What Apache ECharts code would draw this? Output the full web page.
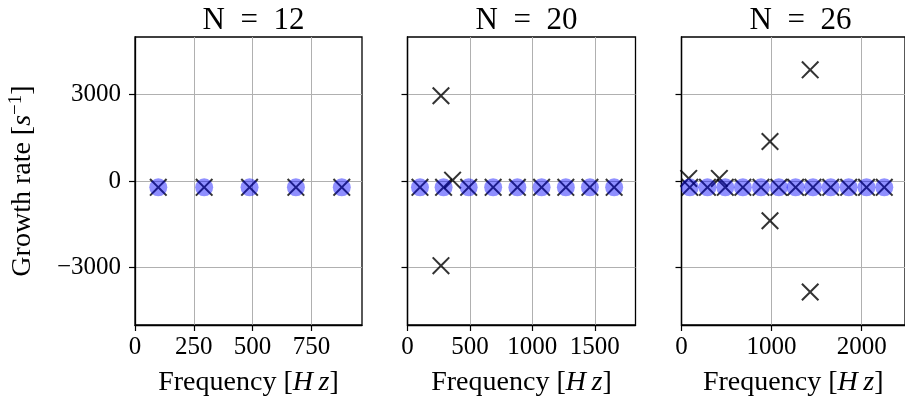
<!DOCTYPE html>
<html>
<head>
<meta charset="utf-8">
<script src="https://cdn.jsdelivr.net/npm/echarts@6/dist/echarts.min.js"></script>
<style>html,body{margin:0;padding:0;background:#fff}#c{width:905px;height:409px}</style>
</head>
<body>
<div id="c"></div>
<script>
// ---- data ----
const titles = ['N = 12', 'N = 20', 'N = 26'];
// N = 12
const modeFreq12 = [99, 294, 487, 684, 879];
const modeRate12 = [-220, -220, -220, -220, -220];
const allFreq12 = [99, 294, 487, 684, 879];
const allRate12 = [-220, -220, -220, -220, -220];
// N = 20
const modeFreq20 = [100, 289, 490, 686, 880, 1074, 1268, 1461, 1655];
const modeRate20 = [-220, -220, -220, -220, -220, -220, -220, -220, -220];
const allFreq20 = [100, 289, 490, 686, 880, 1074, 1268, 1461, 1655, 268, 268, 361];
const allRate20 = [-220, -220, -220, -220, -220, -220, -220, -220, -220, 2960, -2940, 30];
// N = 26
const modeFreq26 = [92, 288, 486, 681, 882, 1080, 1266, 1459, 1656, 1855, 2053, 2250];
const modeRate26 = [-220, -220, -220, -220, -220, -220, -220, -220, -220, -220, -220, -220];
const allFreq26 = [92, 288, 486, 681, 882, 1080, 1266, 1459, 1656, 1855, 2053, 2250, 80, 420, 982, 982, 1428, 1428];
const allRate26 = [-220, -220, -220, -220, -220, -220, -220, -220, -220, -220, -220, -220, 90, 90, 1370, -1380, 3860, -3855];
// axes
const xMax = [965, 1826, 2480];
const xTicks = [[0, 250, 500, 750], [0, 500, 1000, 1500], [0, 1000, 2000]];
const yMin = -5000, yMax = 5000;
const yTicks = [-3000, 0, 3000];

const modeF = [modeFreq12, modeFreq20, modeFreq26];
const modeR = [modeRate12, modeRate20, modeRate26];
const allF = [allFreq12, allFreq20, allFreq26];
const allR = [allRate12, allRate20, allRate26];

const FONT = '"Liberation Serif", "DejaVu Serif", serif';
const XPATH = 'path://M0,0.8 L0.8,0 L5,4.2 L9.2,0 L10,0.8 L5.8,5 L10,9.2 L9.2,10 L5,5.8 L0.8,10 L0,9.2 L4.2,5 Z';
const gridPos = [
  {left: 135, top: 37, width: 227, height: 288},
  {left: 407.5, top: 37, width: 228, height: 288},
  {left: 681.5, top: 37, width: 228, height: 288}
];
const sp = '\u2002';
const fmt = v => (v < 0 ? '\u2212' + Math.abs(v) : String(v));

const grids = [], xAxes = [], yAxes = [], series = [], titleOpts = [];
for (let i = 0; i < 3; i++) {
  const g = gridPos[i];
  grids.push(Object.assign({show: true, borderColor: '#000', borderWidth: 1.3, containLabel: false}, g));
  titleOpts.push({
    text: titles[i].replace(/ /g, sp),
    left: g.left + g.width / 2, top: 0, textAlign: 'center',
    textStyle: {fontFamily: FONT, fontSize: 31, fontWeight: 'normal', color: '#000'}
  });
  xAxes.push({
    type: 'value', gridIndex: i, min: 0, max: xMax[i],
    name: '{n|Frequency [}{i|H\u2009z}{n|]}', nameLocation: 'middle', nameGap: 44,
    nameTextStyle: {rich: {n: {fontFamily: FONT, fontSize: 28, color: '#000'}, i: {fontFamily: FONT, fontSize: 28, fontStyle: 'italic', color: '#000'}}},
    axisLine: {show: true, onZero: false, lineStyle: {color: '#000', width: 1.3}},
    axisTick: {show: true, length: 6, customValues: xTicks[i], lineStyle: {color: '#000', width: 1.2}},
    axisLabel: {customValues: xTicks[i], fontFamily: FONT, fontSize: 25, color: '#000', margin: 10, formatter: fmt},
    splitLine: {show: true, lineStyle: {color: '#b0b0b0', width: 1}}
  });
  yAxes.push({
    type: 'value', gridIndex: i, min: yMin, max: yMax,
    name: i === 0 ? '{n|Growth rate [}{i|s}{s|\u22121}{n|]}' : '',
    nameLocation: 'middle', nameGap: 97,
    nameTextStyle: {rich: {
      n: {fontFamily: FONT, fontSize: 28, color: '#000'},
      i: {fontFamily: FONT, fontSize: 28, fontStyle: 'italic', color: '#000'},
      s: {fontFamily: FONT, fontSize: 19, color: '#000', verticalAlign: 'top', padding: [0, 0, 12, 0]}
    }},
    axisLine: {show: true, onZero: false, lineStyle: {color: '#000', width: 1.3}},
    axisTick: {show: true, length: 6, customValues: yTicks, lineStyle: {color: '#000', width: 1.2}},
    axisLabel: {show: i === 0, customValues: yTicks, fontFamily: FONT, fontSize: 25, color: '#000', margin: 14, formatter: fmt},
    splitLine: {show: true, lineStyle: {color: '#b0b0b0', width: 1}}
  });
  series.push({
    type: 'scatter', xAxisIndex: i, yAxisIndex: i,
    data: allF[i].map((f, k) => [f, allR[i][k]]),
    symbol: XPATH, symbolSize: 18,
    itemStyle: {color: '#000'}, z: 3, silent: true
  });
  series.push({
    type: 'scatter', xAxisIndex: i, yAxisIndex: i,
    data: modeF[i].map((f, k) => [f, modeR[i][k]]),
    symbol: 'circle', symbolSize: 18,
    itemStyle: {color: 'rgba(0,0,255,0.55)'}, z: 4, silent: true
  });
}

const chart = echarts.init(document.getElementById('c'), null, {renderer: 'canvas'});
chart.setOption({
  animation: false,
  backgroundColor: '#fff',
  title: titleOpts,
  grid: grids,
  xAxis: xAxes,
  yAxis: yAxes,
  series: series
});
</script>
</body>
</html>
